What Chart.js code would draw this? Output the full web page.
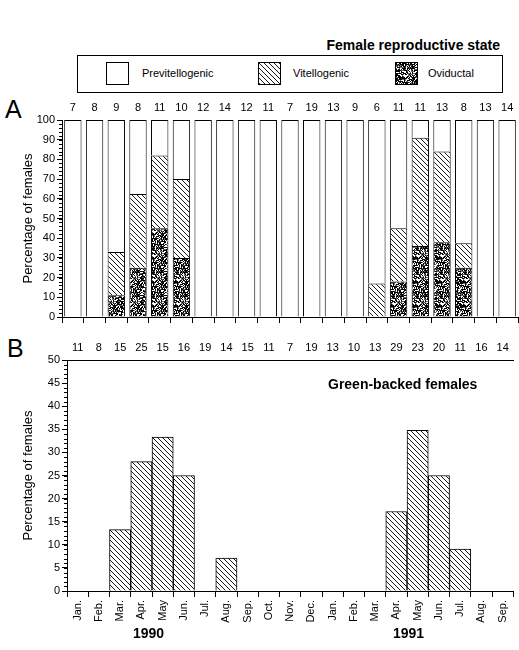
<!DOCTYPE html>
<html>
<head>
<meta charset="utf-8">
<script src="https://cdn.jsdelivr.net/npm/chart.js@4"></script>
<style>
  body { margin: 0; background: #fff; font-family: "Liberation Sans", Arial, sans-serif; color: #000; }
  #pagina { position: relative; width: 519px; height: 650px; overflow: hidden; }
  .abs { position: absolute; white-space: nowrap; }
  .grassetto { font-weight: bold; font-size: 14px; }
  .lettera { font-size: 25px; }
  #legenda { left: 77px; top: 55px; width: 424px; height: 36px; border: 1px solid #000; font-size: 11px; }
  #legenda canvas { position: absolute; top: 6px; }
  #legenda span { position: absolute; top: 11px; }
</style>
</head>
<body>
<div id="pagina">
  <div class="abs grassetto" style="right:19px; top:37px;">Female reproductive state</div>

  <div id="legenda" class="abs">
    <canvas id="campione-pre" width="23" height="23" style="left:28px;"></canvas>
    <span style="left:64px;">Previtellogenic</span>
    <canvas id="campione-vit" width="23" height="23" style="left:180px;"></canvas>
    <span style="left:215px;">Vitellogenic</span>
    <canvas id="campione-ovi" width="23" height="23" style="left:317px;"></canvas>
    <span style="left:350px;">Oviductal</span>
  </div>

  <div class="abs lettera" style="left:5px; top:95px;">A</div>
  <canvas id="graficoA" class="abs" width="519" height="232" style="left:0; top:98px;"></canvas>

  <div class="abs lettera" style="left:7px; top:334px;">B</div>
  <canvas id="graficoB" class="abs" width="519" height="292" style="left:0; top:335px;"></canvas>

  <div class="abs grassetto" style="left:328px; top:376px;">Green-backed females</div>
  <div class="abs grassetto" style="left:133px; top:625px;">1990</div>
  <div class="abs grassetto" style="left:393px; top:625px;">1991</div>
</div>

<script>
// mesi da gennaio 1990 a settembre 1991
const mesi = ["Jan.", "Feb.", "Mar.", "Apr.", "May", "Jun.", "Jul.", "Aug.", "Sep.", "Oct.", "Nov.", "Dec.",
              "Jan.", "Feb.", "Mar.", "Apr.", "May", "Jun.", "Jul.", "Aug.", "Sep."];

// pannello A: numero di femmine e percentuali per stato riproduttivo
const campioneA = [7, 8, 9, 8, 11, 10, 12, 14, 12, 11, 7, 19, 13, 9, 6, 11, 11, 13, 8, 13, 14];
const oviductal = [0, 0, 11, 25, 45, 30, 0, 0, 0, 0, 0, 0, 0, 0, 0, 18, 36, 38, 25, 0, 0];
const vitellogenic = [0, 0, 22, 37.5, 37, 40, 0, 0, 0, 0, 0, 0, 0, 0, 17, 27, 55, 46, 12.5, 0, 0];
const previtellogenic = [100, 100, 67, 37.5, 18, 30, 100, 100, 100, 100, 100, 100, 100, 100, 83, 55, 9, 16, 62.5, 100, 100];
const ticksA = [0, 10, 20, 30, 40, 50, 60, 70, 80, 90, 100];

// pannello B: femmine con dorso verde
const campioneB = [11, 8, 15, 25, 15, 16, 19, 14, 15, 11, 7, 19, 13, 10, 13, 29, 23, 20, 11, 16, 14];
const dorsoVerde = [0, 0, 13.3, 28, 33.3, 25, 0, 7.1, 0, 0, 0, 0, 0, 0, 0, 17.2, 34.8, 25, 9.1, 0, 0];
const ticksB = [0, 5, 10, 15, 20, 25, 30, 35, 40, 45, 50];

const FONT = "'Liberation Sans', Arial, sans-serif";
const NERO = "#000";

// trama a righe diagonali
function tramaRighe() {
  const c = document.createElement("canvas");
  c.width = 5; c.height = 5;
  const g = c.getContext("2d");
  g.fillStyle = "#fff";
  g.fillRect(0, 0, 5, 5);
  g.strokeStyle = "#000";
  g.lineWidth = 0.9;
  g.beginPath();
  for (const k of [-5, 0, 5]) { g.moveTo(k, 0); g.lineTo(k + 5, 5); }
  g.stroke();
  return g.createPattern(c, "repeat");
}

// trama a puntini (sempre uguale)
function tramaPunti() {
  const c = document.createElement("canvas");
  c.width = 24; c.height = 24;
  const g = c.getContext("2d");
  g.fillStyle = "#fff";
  g.fillRect(0, 0, 24, 24);
  let s = 12345;
  for (let y = 0; y < 24; y++) {
    for (let x = 0; x < 24; x++) {
      s = (s * 1103515245 + 12345) % 2147483648;
      const r = s / 2147483648;
      if (r < 0.7) { g.fillStyle = r < 0.5 ? "#000" : "#666"; g.fillRect(x, y, 1, 1); }
    }
  }
  return g.createPattern(c, "repeat");
}

const righe = tramaRighe();
const punti = tramaPunti();

function campione(id, riempimento) {
  const g = document.getElementById(id).getContext("2d");
  g.fillStyle = riempimento;
  g.fillRect(0, 0, 23, 23);
  g.strokeStyle = "#000";
  g.strokeRect(0.5, 0.5, 22, 22);
}
campione("campione-pre", "#fff");
campione("campione-vit", righe);
campione("campione-ovi", punti);

// tacche piccole sull'asse y
const tacchePiccole = {
  id: "tacchePiccole",
  afterDraw(chart, args, opts) {
    const y = chart.scales.y;
    const ctx = chart.ctx;
    ctx.save();
    ctx.strokeStyle = NERO;
    ctx.lineWidth = 1;
    for (let v = y.min; v <= y.max + 0.001; v += opts.passo) {
      const py = Math.round(y.getPixelForValue(v)) + 0.5;
      ctx.beginPath();
      ctx.moveTo(y.right - 3, py);
      ctx.lineTo(y.right, py);
      ctx.stroke();
    }
    ctx.restore();
  }
};

function assey(max, ticks, larghezza) {
  return {
    min: 0,
    max: max,
    afterBuildTicks: (s) => { s.ticks = ticks.map((v) => ({ value: v })); },
    ticks: { color: NERO, font: { family: FONT, size: 11 }, padding: 2 },
    grid: { drawOnChartArea: false, tickLength: 5, color: NERO },
    border: { color: NERO },
    title: {
      display: true,
      text: "Percentage of females",
      color: NERO,
      font: { family: FONT, size: 13 },
      padding: { top: 21, bottom: 0 }
    },
    afterFit: (s) => { s.width = larghezza; }
  };
}

function asseCampione(valori, altezza, bordo) {
  return {
    type: "category",
    position: "top",
    labels: valori.map(String),
    offset: true,
    grid: { display: false, drawTicks: false },
    border: { display: bordo, color: NERO },
    ticks: { color: NERO, font: { family: FONT, size: 11 }, padding: 5 },
    afterFit: (s) => { s.height = altezza; }
  };
}

new Chart(document.getElementById("graficoA"), {
  type: "bar",
  data: {
    labels: mesi,
    datasets: [
      { label: "Oviductal", data: oviductal, backgroundColor: punti },
      { label: "Vitellogenic", data: vitellogenic, backgroundColor: righe },
      { label: "Previtellogenic", data: previtellogenic, backgroundColor: "#fff" }
    ]
  },
  options: {
    responsive: false,
    animation: false,
    layout: { padding: { left: 0, right: 1, top: 0, bottom: 0 } },
    datasets: {
      bar: { borderColor: NERO, borderWidth: 1, borderSkipped: "start", barPercentage: 0.8, categoryPercentage: 1 }
    },
    plugins: { legend: { display: false }, tooltip: { enabled: false }, tacchePiccole: { passo: 2 } },
    scales: {
      x: {
        stacked: true,
        ticks: { display: false },
        grid: { offset: true, drawOnChartArea: false, tickLength: 6, color: NERO },
        border: { color: NERO },
        afterFit: (s) => { s.height = 13; }
      },
      x2: asseCampione(campioneA, 22, false),
      y: Object.assign(assey(100, ticksA, 62), { stacked: true })
    }
  },
  plugins: [tacchePiccole]
});

new Chart(document.getElementById("graficoB"), {
  type: "bar",
  data: {
    labels: mesi,
    datasets: [
      { label: "Green-backed females", data: dorsoVerde, backgroundColor: righe }
    ]
  },
  options: {
    responsive: false,
    animation: false,
    layout: { padding: { left: 0, right: 1, top: 0, bottom: 0 } },
    datasets: {
      bar: { borderColor: NERO, borderWidth: 1, borderSkipped: "start", barPercentage: 1, categoryPercentage: 1 }
    },
    plugins: { legend: { display: false }, tooltip: { enabled: false }, tacchePiccole: { passo: 1 } },
    scales: {
      x: {
        ticks: { color: NERO, font: { family: FONT, size: 11 }, minRotation: 90, maxRotation: 90, autoSkip: false, padding: 3 },
        grid: { offset: true, drawOnChartArea: false, tickLength: 6, color: NERO },
        border: { color: NERO },
        afterFit: (s) => { s.height = 36; }
      },
      x2: asseCampione(campioneB, 25, true),
      y: assey(50, ticksB, 67)
    }
  },
  plugins: [tacchePiccole]
});
</script>
</body>
</html>
